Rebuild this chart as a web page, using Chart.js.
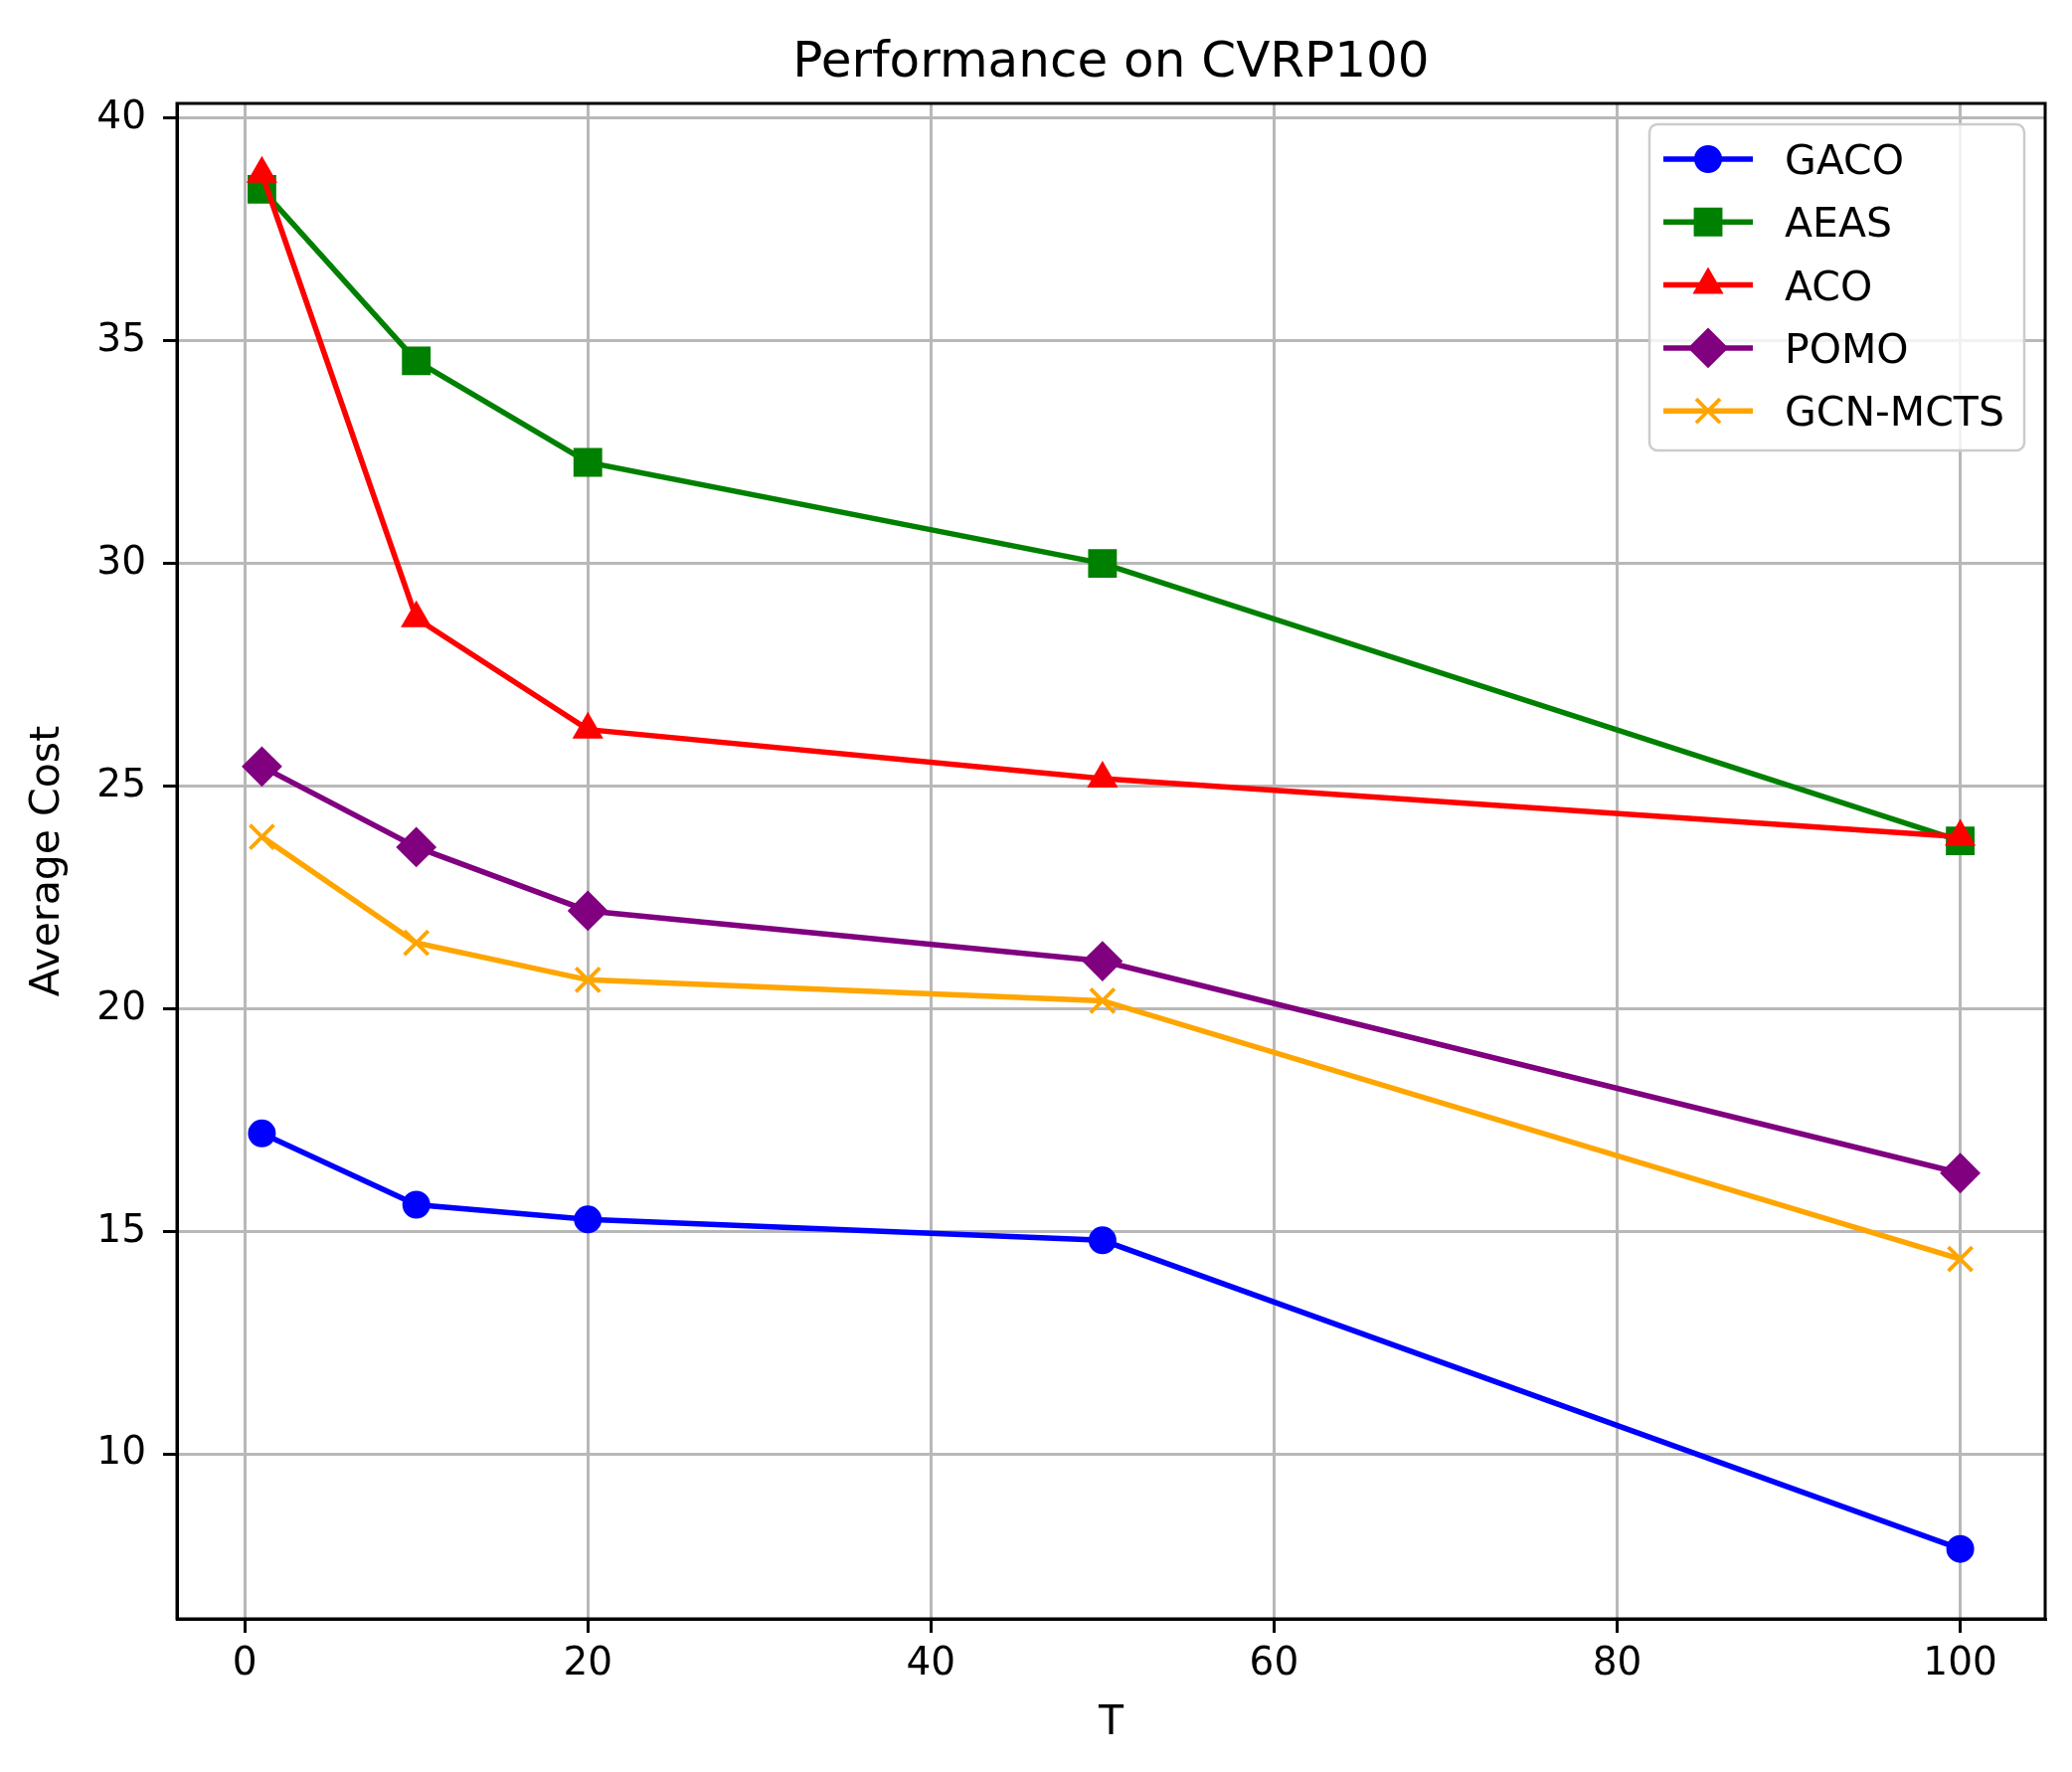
<!DOCTYPE html>
<html>
<head>
<meta charset="utf-8">
<script src="https://cdn.jsdelivr.net/npm/chart.js@4.4.0/dist/chart.umd.min.js"></script>
<style>
    html, body { margin: 0; padding: 0; background: #fff; }
    #wrap { width: 2084px; height: 1782px; }
</style>
</head>
<body>
<div id="wrap"><canvas id="lineChart" width="2084" height="1782"></canvas></div>
<script>
// values
const tValues = [1, 10, 20, 50, 100];
const gacoCost = [17.2, 15.6, 15.27, 14.8, 7.87];
const aeasCost = [38.4, 34.55, 32.27, 30.0, 23.77];
const acoCost = [38.75, 28.77, 26.27, 25.17, 23.86];
const pomoCost = [25.44, 23.63, 22.2, 21.07, 16.31];
const gcnMctsCost = [23.86, 21.48, 20.65, 20.18, 14.38];
const seriesNames = ["GACO", "AEAS", "ACO", "POMO", "GCN-MCTS"];
const xTickValues = [0, 20, 40, 60, 80, 100];
const yTickValues = [10, 15, 20, 25, 30, 35, 40];

const colors = ["#0000ff", "#008000", "#ff0000", "#800080", "#ffa500"];
const markers = [
    { style: "circle", radius: 13, border: 2 },
    { style: "rect", radius: 19, border: 2 },
    { style: "triangle", radius: 16, border: 2 },
    { style: "rectRot", radius: 19, border: 2 },
    { style: "crossRot", radius: 17, border: 3.8 },
];

const font = "DejaVu Sans";
Chart.defaults.font.family = font;
Chart.defaults.color = "#000";

function toPoints(ys) {
    return tValues.map((t, i) => ({ x: t, y: ys[i] }));
}

const allSeries = [gacoCost, aeasCost, acoCost, pomoCost, gcnMctsCost];

const datasets = allSeries.map((ys, i) => ({
    label: seriesNames[i],
    data: toPoints(ys),
    borderColor: colors[i],
    backgroundColor: colors[i],
    borderWidth: 5.5,
    pointStyle: markers[i].style,
    pointRadius: markers[i].radius,
    pointBorderWidth: markers[i].border,
    pointBackgroundColor: colors[i],
    pointBorderColor: colors[i],
    tension: 0,
    order: allSeries.length - i,
    clip: false,
}));

// title centred over the plot area, like matplotlib
const titlePlugin = {
    id: "plotTitle",
    afterDraw(chart) {
        const ctx = chart.ctx;
        const area = chart.chartArea;
        ctx.save();
        ctx.font = "50px " + font;
        ctx.fillStyle = "#000";
        ctx.textAlign = "center";
        ctx.textBaseline = "alphabetic";
        ctx.fillText("Performance on CVRP100", (area.left + area.right) / 2, 77);
        ctx.restore();
    },
};

// full box round the axes
const framePlugin = {
    id: "frame",
    afterDatasetsDraw(chart) {
        const ctx = chart.ctx;
        const a = chart.chartArea;
        ctx.save();
        ctx.strokeStyle = "#000";
        ctx.lineWidth = 3;
        ctx.strokeRect(a.left, a.top, a.right - a.left, a.bottom - a.top);
        ctx.restore();
    },
};

// legend in the upper right corner, line + marker like matplotlib
const legendPlugin = {
    id: "innerLegend",
    afterDraw(chart) {
        const ctx = chart.ctx;
        const a = chart.chartArea;
        const boxRight = a.right - 21;
        const boxTop = a.top + 21;
        const boxW = 377;
        const boxH = 328;
        const boxLeft = boxRight - boxW;
        ctx.save();
        ctx.beginPath();
        ctx.roundRect(boxLeft, boxTop, boxW, boxH, 8);
        ctx.fillStyle = "rgba(255,255,255,0.8)";
        ctx.fill();
        ctx.strokeStyle = "#cccccc";
        ctx.lineWidth = 2.5;
        ctx.stroke();

        chart.data.datasets.forEach((ds, i) => {
            const cy = boxTop + 35 + i * 63.3;
            const x0 = boxLeft + 14;
            const x1 = x0 + 90;
            ctx.strokeStyle = ds.borderColor;
            ctx.lineWidth = ds.borderWidth;
            ctx.beginPath();
            ctx.moveTo(x0, cy);
            ctx.lineTo(x1, cy);
            ctx.stroke();

            ctx.fillStyle = ds.pointBackgroundColor;
            ctx.strokeStyle = ds.pointBorderColor;
            ctx.lineWidth = ds.pointBorderWidth;
            Chart.helpers.drawPoint(ctx, {
                pointStyle: ds.pointStyle,
                radius: ds.pointRadius,
                rotation: 0,
                borderWidth: ds.pointBorderWidth,
            }, (x0 + x1) / 2, cy);

            ctx.fillStyle = "#000";
            ctx.font = "41px " + font;
            ctx.textAlign = "left";
            ctx.textBaseline = "alphabetic";
            ctx.fillText(ds.label, boxLeft + 136, cy + 15);
        });
        ctx.restore();
    },
};

const chart = new Chart(document.getElementById("lineChart"), {
    type: "line",
    data: { datasets: datasets },
    options: {
        responsive: false,
        devicePixelRatio: 1,
        animation: false,
        layout: { padding: { top: 104, right: 27, left: 0, bottom: 0 } },
        plugins: {
            legend: { display: false },
            tooltip: { enabled: false },
        },
        scales: {
            x: {
                type: "linear",
                min: -3.95,
                max: 104.95,
                afterBuildTicks: (scale) => {
                    scale.ticks = xTickValues.map((v) => ({ value: v }));
                },
                afterFit: (scale) => {
                    scale.height = 154;
                },
                ticks: {
                    font: { size: 39 },
                    padding: 8,
                    maxRotation: 0,
                    autoSkip: false,
                    color: "#000",
                },
                grid: {
                    color: "#b8b8b8",
                    lineWidth: 3,
                    tickLength: 14,
                    tickWidth: 3,
                    tickColor: "#000",
                },
                border: { display: true, color: "#000", width: 3 },
                title: {
                    display: true,
                    text: "T",
                    font: { size: 41 },
                    padding: { top: 0, bottom: 24 },
                    color: "#000",
                },
            },
            y: {
                type: "linear",
                min: 6.3,
                max: 40.33,
                afterBuildTicks: (scale) => {
                    scale.ticks = yTickValues.map((v) => ({ value: v }));
                },
                afterFit: (scale) => {
                    scale.width = 178;
                },
                ticks: {
                    font: { size: 39 },
                    padding: 17,
                    color: "#000",
                },
                grid: {
                    color: "#b8b8b8",
                    lineWidth: 3,
                    tickLength: 14,
                    tickWidth: 3,
                    tickColor: "#000",
                },
                border: { display: true, color: "#000", width: 3 },
                title: {
                    display: true,
                    text: "Average Cost",
                    font: { size: 41 },
                    padding: { top: 24, bottom: 0 },
                    color: "#000",
                },
            },
        },
    },
    plugins: [framePlugin, legendPlugin, titlePlugin],
});
</script>
</body>
</html>
